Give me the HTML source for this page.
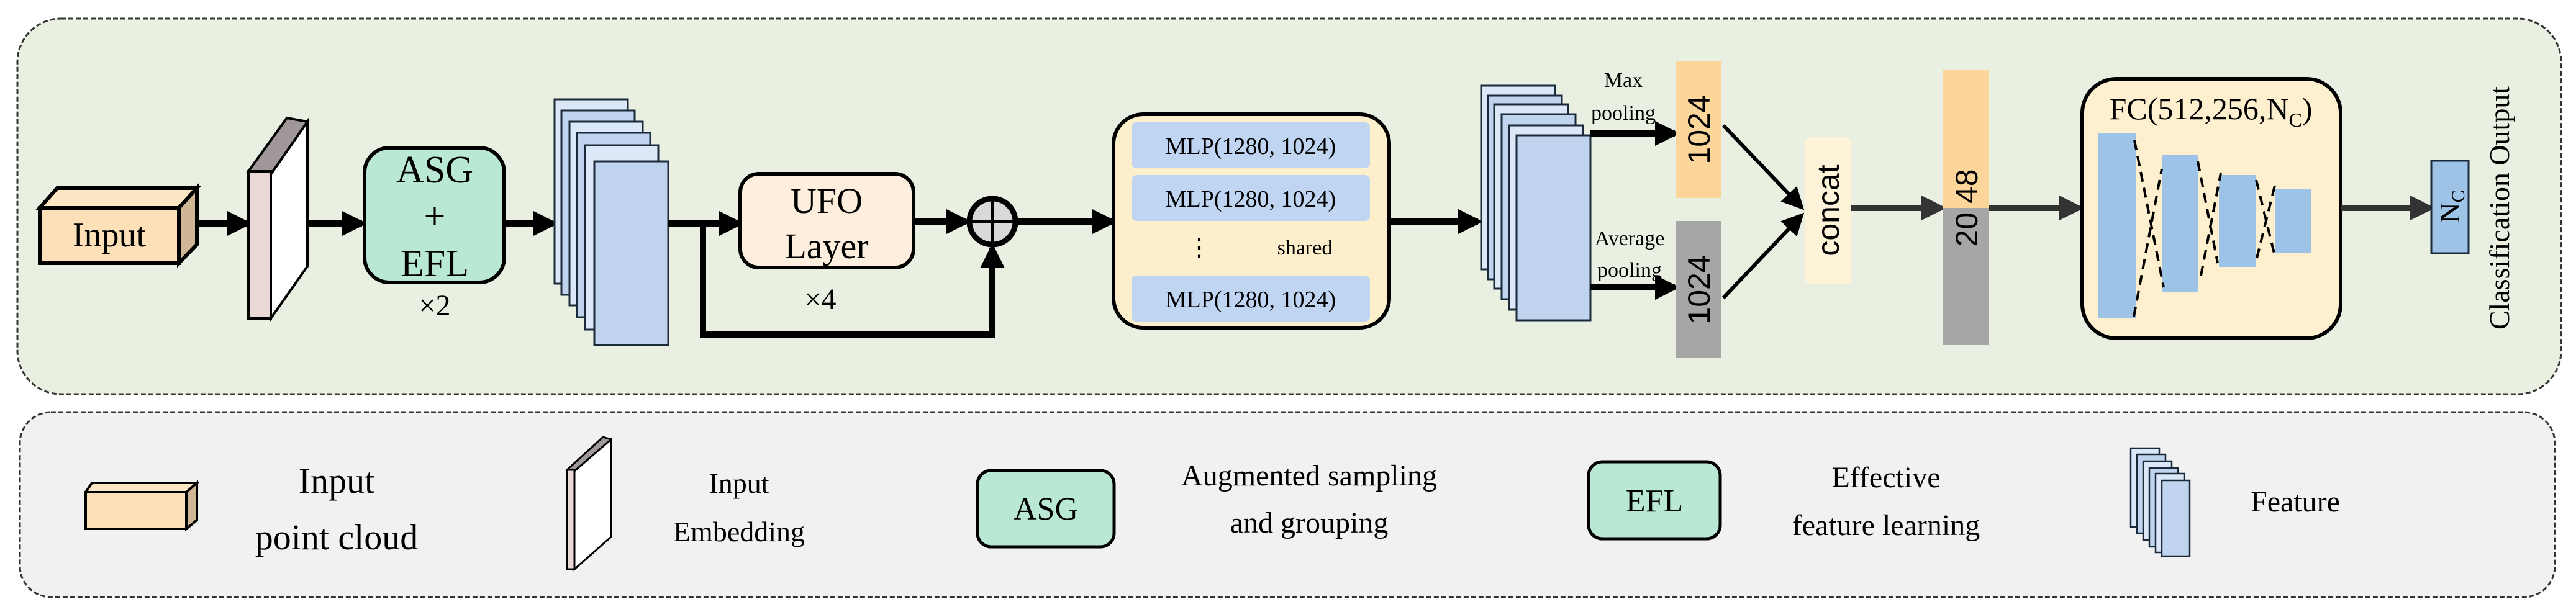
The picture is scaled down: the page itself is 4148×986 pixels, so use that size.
<!DOCTYPE html>
<html><head><meta charset="utf-8"><style>
html,body{margin:0;padding:0;background:#fff;}
svg{display:block;}
</style></head><body>
<svg width="4148" height="986" viewBox="0 0 4148 986" xmlns="http://www.w3.org/2000/svg">
<defs>
<marker id="ah" markerWidth="4" markerHeight="4" refX="3.2" refY="2" orient="auto" markerUnits="strokeWidth"><path d="M0,0 L4,2 L0,4 z" fill="#000"/></marker>
<marker id="ahg" markerWidth="4" markerHeight="4" refX="3.2" refY="2" orient="auto" markerUnits="strokeWidth"><path d="M0,0 L4,2 L0,4 z" fill="#333"/></marker>
<marker id="ahs" markerWidth="6" markerHeight="6" refX="5" refY="3" orient="auto" markerUnits="strokeWidth"><path d="M0,0 L6,3 L0,6 z" fill="#000"/></marker>
</defs>
<rect x="28" y="30" width="4096" height="605" rx="70" fill="#e9f0e2" stroke="#333" stroke-width="3" stroke-dasharray="8,4"/>
<rect x="32" y="664" width="4082" height="298" rx="50" fill="#f1f1f1" stroke="#333" stroke-width="3" stroke-dasharray="8,4"/>

<g font-family="'Liberation Serif', serif">
<!-- Input box -->
<polygon points="64,335 92,303 317,303 288,335" fill="#fde6c4" stroke="#000" stroke-width="6"/>
<polygon points="288,335 317,303 317,394 288,424" fill="#cfb694" stroke="#000" stroke-width="6"/>
<rect x="64" y="335" width="224" height="89" fill="#fde0b8" stroke="#000" stroke-width="6"/>
<text x="176" y="397" font-size="56" text-anchor="middle">Input</text>
<line x1="318" y1="360" x2="398" y2="360" stroke="#000" stroke-width="10" marker-end="url(#ah)"/>

<polygon points="400,276 436,281 495,196 462,190" fill="#a09898" stroke="#000" stroke-width="4"/>
<polygon points="436,281 495,196 495,429 436,513" fill="#fff" stroke="#000" stroke-width="4"/>
<rect x="400" y="276" width="36" height="237" fill="#ead8d6" stroke="#000" stroke-width="4"/>
<line x1="495" y1="360" x2="583" y2="360" stroke="#000" stroke-width="10" marker-end="url(#ah)"/>

<rect x="587" y="238" width="225" height="217" rx="40" fill="#b9e8d4" stroke="#000" stroke-width="6"/>
<text x="700" y="294" font-size="62" text-anchor="middle">ASG</text>
<text x="700" y="369" font-size="62" text-anchor="middle">+</text>
<text x="700" y="445" font-size="62" text-anchor="middle">EFL</text>
<text x="700" y="508" font-size="48" text-anchor="middle">×2</text>
<line x1="812" y1="360" x2="891" y2="360" stroke="#000" stroke-width="10" marker-end="url(#ah)"/>

<g stroke="#1a2a3a" stroke-width="3">
<rect x="893" y="160" width="118" height="297" fill="#dce8f8"/>
<rect x="904" y="178" width="118" height="297" fill="#c0d4f0"/>
<rect x="917" y="196" width="118" height="296" fill="#dce8f8"/>
<rect x="929" y="214" width="118" height="297" fill="#c0d4f0"/>
<rect x="942" y="234" width="118" height="297" fill="#dce8f8"/>
<rect x="957" y="260" width="119" height="296" fill="#c0d4f0"/>
</g>
<line x1="1076" y1="360" x2="1190" y2="360" stroke="#000" stroke-width="10" marker-end="url(#ah)"/>
<polyline points="1132,360 1132,539 1598,539 1598,400" fill="none" stroke="#000" stroke-width="10" marker-end="url(#ah)"/>

<rect x="1192" y="280" width="279" height="151" rx="30" fill="#fdeedd" stroke="#000" stroke-width="6"/>
<text x="1331" y="343" font-size="58" text-anchor="middle">UFO</text>
<text x="1331" y="416" font-size="58" text-anchor="middle">Layer</text>
<text x="1321" y="498" font-size="48" text-anchor="middle">×4</text>
<line x1="1471" y1="357" x2="1556" y2="357" stroke="#000" stroke-width="10" marker-end="url(#ah)"/>
<circle cx="1598" cy="357" r="37" fill="#d9d9d9" stroke="#000" stroke-width="9"/>
<line x1="1561" y1="357" x2="1635" y2="357" stroke="#000" stroke-width="6"/>
<line x1="1598" y1="320" x2="1598" y2="394" stroke="#000" stroke-width="6"/>
<line x1="1638" y1="357" x2="1791" y2="357" stroke="#000" stroke-width="10" marker-end="url(#ah)"/>

<rect x="1793" y="184" width="444" height="344" rx="48" fill="#fdefcc" stroke="#000" stroke-width="6"/>
<g fill="#bfd5f2">
<rect x="1822" y="197" width="384" height="74" rx="8"/>
<rect x="1822" y="282" width="384" height="74" rx="8"/>
<rect x="1822" y="444" width="384" height="74" rx="8"/>
</g>
<text x="2014" y="248" font-size="38" text-anchor="middle">MLP(1280, 1024)</text>
<text x="2014" y="333" font-size="38" text-anchor="middle">MLP(1280, 1024)</text>
<text x="2014" y="495" font-size="38" text-anchor="middle">MLP(1280, 1024)</text>
<text x="1931" y="412" font-size="40" text-anchor="middle">⋮</text>
<text x="2101" y="410" font-size="34" text-anchor="middle">shared</text>
<line x1="2237" y1="357" x2="2380" y2="357" stroke="#000" stroke-width="10" marker-end="url(#ah)"/>

<g stroke="#1a2a3a" stroke-width="3">
<rect x="2385" y="138" width="119" height="296" fill="#dce8f8"/>
<rect x="2396" y="154" width="119" height="296" fill="#c0d4f0"/>
<rect x="2406" y="168" width="119" height="297" fill="#dce8f8"/>
<rect x="2418" y="184" width="119" height="298" fill="#c0d4f0"/>
<rect x="2430" y="202" width="119" height="297" fill="#dce8f8"/>
<rect x="2442" y="218" width="119" height="298" fill="#c0d4f0"/>
</g>
<text x="2614" y="140" font-size="34" text-anchor="middle">Max</text>
<text x="2614" y="193" font-size="34" text-anchor="middle">pooling</text>
<text x="2624" y="395" font-size="34" text-anchor="middle">Average</text>
<text x="2624" y="446" font-size="34" text-anchor="middle">pooling</text>
<line x1="2561" y1="215" x2="2697" y2="215" stroke="#000" stroke-width="10" marker-end="url(#ah)"/>
<line x1="2561" y1="463" x2="2697" y2="463" stroke="#000" stroke-width="10" marker-end="url(#ah)"/>
</g>
<rect x="2699" y="98" width="73" height="221" fill="#fcd59a"/>
<rect x="2699" y="356" width="73" height="221" fill="#a6a6a6"/>
<g font-family="'Liberation Sans', sans-serif">
<text transform="translate(2753,209) rotate(-90)" font-size="50" text-anchor="middle">1024</text>
<text transform="translate(2753,467) rotate(-90)" font-size="50" text-anchor="middle">1024</text>
</g>
<line x1="2775" y1="202" x2="2901" y2="334" stroke="#000" stroke-width="6" marker-end="url(#ahs)"/>
<line x1="2775" y1="480" x2="2901" y2="347" stroke="#000" stroke-width="6" marker-end="url(#ahs)"/>

<rect x="2907" y="221" width="74" height="237" rx="8" fill="#fdf3d8"/>
<text transform="translate(2961,339) rotate(-90)" font-family="'Liberation Sans', sans-serif" font-size="50" text-anchor="middle">concat</text>
<line x1="2981" y1="335" x2="3126" y2="335" stroke="#333" stroke-width="10" marker-end="url(#ahg)"/>
<rect x="3129" y="112" width="74" height="223" fill="#fcd59a"/>
<rect x="3129" y="335" width="74" height="221" fill="#a6a6a6"/>
<text transform="translate(3184,335) rotate(-90)" font-family="'Liberation Sans', sans-serif" font-size="50" text-anchor="middle">20 48</text>
<line x1="3203" y1="335" x2="3348" y2="335" stroke="#333" stroke-width="10" marker-end="url(#ahg)"/>

<g font-family="'Liberation Serif', serif">
<rect x="3353" y="127" width="416" height="418" rx="55" fill="#fef0ce" stroke="#000" stroke-width="6"/>
<text x="3560" y="192" font-size="50" text-anchor="middle">FC(512,256,N<tspan font-size="32" dy="12">C</tspan><tspan dy="-12">)</tspan></text>
<g fill="#9dc3e6">
<rect x="3379" y="215" width="60" height="297"/>
<rect x="3481" y="250" width="58" height="221"/>
<rect x="3573" y="282" width="60" height="148"/>
<rect x="3663" y="304" width="59" height="104"/>
</g>
<g stroke="#000" stroke-width="4" stroke-dasharray="16,10" fill="none">
<line x1="3437" y1="226" x2="3484" y2="463"/>
<line x1="3436" y1="510" x2="3481" y2="272"/>
<line x1="3539" y1="260" x2="3571" y2="424"/>
<line x1="3544" y1="444" x2="3576" y2="279"/>
<line x1="3633" y1="290" x2="3662" y2="408"/>
<line x1="3634" y1="416" x2="3664" y2="295"/>
</g>
<line x1="3769" y1="335" x2="3913" y2="335" stroke="#333" stroke-width="10" marker-end="url(#ahg)"/>
<rect x="3915" y="259" width="60" height="149" fill="#9dc3e6" stroke="#1a2a3a" stroke-width="3"/>
<text transform="translate(3960,333) rotate(-90)" font-size="46" text-anchor="middle">N<tspan font-size="30" dy="8">C</tspan></text>
<text transform="translate(4040,335) rotate(-90)" font-size="46" text-anchor="middle">Classification Output</text>

<polygon points="138,793 148,778 317,778 300,793" fill="#fde6c4" stroke="#000" stroke-width="4"/>
<polygon points="300,793 317,778 317,838 300,852" fill="#cfb694" stroke="#000" stroke-width="4"/>
<rect x="138" y="793" width="162" height="59" fill="#fde0b8" stroke="#000" stroke-width="4"/>
<text x="542" y="794" font-size="58" text-anchor="middle">Input</text>
<text x="542" y="885" font-size="58" text-anchor="middle">point cloud</text>
<polygon points="913,757 925,759 984,708 971,704" fill="#a09898" stroke="#000" stroke-width="3"/>
<polygon points="925,759 984,708 984,865 925,917" fill="#fff" stroke="#000" stroke-width="3"/>
<rect x="913" y="757" width="12" height="160" fill="#ead8d6" stroke="#000" stroke-width="3"/>
<text x="1190" y="794" font-size="46" text-anchor="middle">Input</text>
<text x="1190" y="872" font-size="46" text-anchor="middle">Embedding</text>
<rect x="1574" y="758" width="220" height="123" rx="22" fill="#b9e8d4" stroke="#000" stroke-width="5"/>
<text x="1684" y="837" font-size="52" text-anchor="middle">ASG</text>
<text x="2108" y="782" font-size="48" text-anchor="middle">Augmented sampling</text>
<text x="2108" y="858" font-size="48" text-anchor="middle">and grouping</text>
<rect x="2558" y="744" width="212" height="124" rx="22" fill="#b9e8d4" stroke="#000" stroke-width="5"/>
<text x="2664" y="824" font-size="52" text-anchor="middle">EFL</text>
<text x="3037" y="785" font-size="48" text-anchor="middle">Effective</text>
<text x="3037" y="862" font-size="48" text-anchor="middle">feature learning</text>
<g stroke="#1a2a3a" stroke-width="2.5">
<rect x="3431" y="722" width="46" height="127" fill="#dce8f8"/>
<rect x="3441" y="732" width="46" height="127" fill="#c0d4f0"/>
<rect x="3451" y="743" width="46" height="127" fill="#dce8f8"/>
<rect x="3461" y="754" width="46" height="127" fill="#c0d4f0"/>
<rect x="3471" y="763" width="46" height="127" fill="#dce8f8"/>
<rect x="3481" y="774" width="45" height="122" fill="#c0d4f0"/>
</g>
<text x="3696" y="824" font-size="48" text-anchor="middle">Feature</text>
</g>
</svg>
</body></html>
